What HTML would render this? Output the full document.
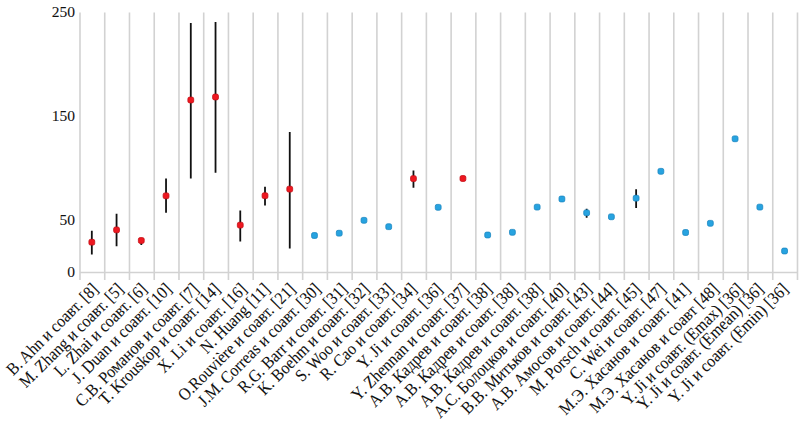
<!DOCTYPE html><html><head><meta charset="utf-8"><style>html,body{margin:0;padding:0;background:#fff;width:800px;height:433px;overflow:hidden}svg{display:block}text{font-family:"Liberation Serif",serif;fill:#111;stroke:#111;stroke-width:0.06px}</style></head><body>
<svg width="800" height="433" viewBox="0 0 800 433">
<path d="M80.00 12.5V280 M104.74 12.5V280 M129.48 12.5V280 M154.22 12.5V280 M178.97 12.5V280 M203.71 12.5V280 M228.45 12.5V280 M253.19 12.5V280 M277.93 12.5V280 M302.67 12.5V280 M327.41 12.5V280 M352.16 12.5V280 M376.90 12.5V280 M401.64 12.5V280 M426.38 12.5V280 M451.12 12.5V280 M475.86 12.5V280 M500.60 12.5V280 M525.34 12.5V280 M550.09 12.5V280 M574.83 12.5V280 M599.57 12.5V280 M624.31 12.5V280 M649.05 12.5V280 M673.79 12.5V280 M698.53 12.5V280 M723.28 12.5V280 M748.02 12.5V280 M772.76 12.5V280 M797.50 12.5V280" stroke="#d2d2d2" stroke-width="1.6" fill="none"/>
<path d="M80 272.5H797.5" stroke="#d2d2d2" stroke-width="1.6" fill="none"/>
<text x="75" y="17.0" font-size="15.5" text-anchor="end">250</text>
<text x="75" y="121.0" font-size="15.5" text-anchor="end">150</text>
<text x="75" y="225.0" font-size="15.5" text-anchor="end">50</text>
<text x="75" y="277.0" font-size="15.5" text-anchor="end">0</text>
<path d="M91.82 230.8V254.4 M116.56 213.8V246.2 M141.30 238.5V245 M166.04 178.5V212.8 M190.79 23V178.5 M215.53 22V172.7 M240.27 210.4V241.4 M265.01 186.8V205.4 M289.75 132V248.6 M413.46 170.6V187.7 M586.65 208.8V217.8 M636.13 189.3V208" stroke="#111" stroke-width="1.8" fill="none"/>
<rect x="88.92" y="239.30" width="5.8" height="5.8" rx="1.7" fill="#ee1820" stroke="#c40f16" stroke-width="0.8"/>
<rect x="113.66" y="227.00" width="5.8" height="5.8" rx="1.7" fill="#ee1820" stroke="#c40f16" stroke-width="0.8"/>
<rect x="138.40" y="237.60" width="5.8" height="5.8" rx="1.7" fill="#ee1820" stroke="#c40f16" stroke-width="0.8"/>
<rect x="163.14" y="192.90" width="5.8" height="5.8" rx="1.7" fill="#ee1820" stroke="#c40f16" stroke-width="0.8"/>
<rect x="187.89" y="97.10" width="5.8" height="5.8" rx="1.7" fill="#ee1820" stroke="#c40f16" stroke-width="0.8"/>
<rect x="212.63" y="94.10" width="5.8" height="5.8" rx="1.7" fill="#ee1820" stroke="#c40f16" stroke-width="0.8"/>
<rect x="237.37" y="222.20" width="5.8" height="5.8" rx="1.7" fill="#ee1820" stroke="#c40f16" stroke-width="0.8"/>
<rect x="262.11" y="192.80" width="5.8" height="5.8" rx="1.7" fill="#ee1820" stroke="#c40f16" stroke-width="0.8"/>
<rect x="286.85" y="186.20" width="5.8" height="5.8" rx="1.7" fill="#ee1820" stroke="#c40f16" stroke-width="0.8"/>
<rect x="311.59" y="232.60" width="5.8" height="5.8" rx="1.7" fill="#27a3e0" stroke="#1a86c2" stroke-width="0.8"/>
<rect x="336.33" y="230.30" width="5.8" height="5.8" rx="1.7" fill="#27a3e0" stroke="#1a86c2" stroke-width="0.8"/>
<rect x="361.08" y="217.40" width="5.8" height="5.8" rx="1.7" fill="#27a3e0" stroke="#1a86c2" stroke-width="0.8"/>
<rect x="385.82" y="223.80" width="5.8" height="5.8" rx="1.7" fill="#27a3e0" stroke="#1a86c2" stroke-width="0.8"/>
<rect x="410.56" y="175.70" width="5.8" height="5.8" rx="1.7" fill="#ee1820" stroke="#c40f16" stroke-width="0.8"/>
<rect x="435.30" y="204.40" width="5.8" height="5.8" rx="1.7" fill="#27a3e0" stroke="#1a86c2" stroke-width="0.8"/>
<rect x="460.04" y="175.60" width="5.8" height="5.8" rx="1.7" fill="#ee1820" stroke="#c40f16" stroke-width="0.8"/>
<rect x="484.78" y="232.10" width="5.8" height="5.8" rx="1.7" fill="#27a3e0" stroke="#1a86c2" stroke-width="0.8"/>
<rect x="509.52" y="229.40" width="5.8" height="5.8" rx="1.7" fill="#27a3e0" stroke="#1a86c2" stroke-width="0.8"/>
<rect x="534.27" y="204.20" width="5.8" height="5.8" rx="1.7" fill="#27a3e0" stroke="#1a86c2" stroke-width="0.8"/>
<rect x="559.01" y="196.10" width="5.8" height="5.8" rx="1.7" fill="#27a3e0" stroke="#1a86c2" stroke-width="0.8"/>
<rect x="583.75" y="209.90" width="5.8" height="5.8" rx="1.7" fill="#27a3e0" stroke="#1a86c2" stroke-width="0.8"/>
<rect x="608.49" y="213.90" width="5.8" height="5.8" rx="1.7" fill="#27a3e0" stroke="#1a86c2" stroke-width="0.8"/>
<rect x="633.23" y="195.30" width="5.8" height="5.8" rx="1.7" fill="#27a3e0" stroke="#1a86c2" stroke-width="0.8"/>
<rect x="657.97" y="168.40" width="5.8" height="5.8" rx="1.7" fill="#27a3e0" stroke="#1a86c2" stroke-width="0.8"/>
<rect x="682.71" y="229.60" width="5.8" height="5.8" rx="1.7" fill="#27a3e0" stroke="#1a86c2" stroke-width="0.8"/>
<rect x="707.46" y="220.40" width="5.8" height="5.8" rx="1.7" fill="#27a3e0" stroke="#1a86c2" stroke-width="0.8"/>
<rect x="732.20" y="135.90" width="5.8" height="5.8" rx="1.7" fill="#27a3e0" stroke="#1a86c2" stroke-width="0.8"/>
<rect x="756.94" y="204.20" width="5.8" height="5.8" rx="1.7" fill="#27a3e0" stroke="#1a86c2" stroke-width="0.8"/>
<rect x="781.68" y="248.10" width="5.8" height="5.8" rx="1.7" fill="#27a3e0" stroke="#1a86c2" stroke-width="0.8"/>
<text transform="translate(99.30 290.2) rotate(-45) scale(1 1.1)" font-size="15.75" text-anchor="end">B. Ahn и соавт. [8]</text>
<text transform="translate(124.54 290.2) rotate(-45) scale(1 1.1)" font-size="15.75" text-anchor="end">M. Zhang и соавт. [5]</text>
<text transform="translate(147.93 290.2) rotate(-45) scale(1 1.1)" font-size="15.75" text-anchor="end">L. Zhai и соавт. [6]</text>
<text transform="translate(172.62 290.2) rotate(-45) scale(1 1.1)" font-size="15.75" text-anchor="end">J. Duan и соавт. [10]</text>
<text transform="translate(199.76 290.2) rotate(-45) scale(1 1.1)" font-size="15.75" text-anchor="end">C.B. Романов и соавт. [7]</text>
<text transform="translate(221.20 290.2) rotate(-45) scale(1 1.1)" font-size="15.75" text-anchor="end">T. Krouskop и соавт. [14]</text>
<text transform="translate(247.74 290.2) rotate(-45) scale(1 1.1)" font-size="15.75" text-anchor="end">X. Li и соавт. [16]</text>
<text transform="translate(271.08 290.2) rotate(-45) scale(1 1.1)" font-size="15.75" text-anchor="end">N. Huang [11]</text>
<text transform="translate(296.42 290.2) rotate(-45) scale(1 1.1)" font-size="15.75" text-anchor="end">O.Rouvière и соавт. [21]</text>
<text transform="translate(321.66 290.2) rotate(-45) scale(1 1.1)" font-size="15.75" text-anchor="end">J.M. Correas и соавт. [30]</text>
<text transform="translate(348.20 290.2) rotate(-45) scale(1 1.1)" font-size="15.75" text-anchor="end">R.G. Barr и соавт. [31]</text>
<text transform="translate(370.34 290.2) rotate(-45) scale(1 1.1)" font-size="15.75" text-anchor="end">K. Boehm и соавт. [32]</text>
<text transform="translate(394.38 290.2) rotate(-45) scale(1 1.1)" font-size="15.75" text-anchor="end">S. Woo и соавт. [33]</text>
<text transform="translate(417.72 290.2) rotate(-45) scale(1 1.1)" font-size="15.75" text-anchor="end">R. Cao и соавт. [34]</text>
<text transform="translate(443.56 290.2) rotate(-45) scale(1 1.1)" font-size="15.75" text-anchor="end">Y. Ji и соавт. [36]</text>
<text transform="translate(469.50 290.2) rotate(-45) scale(1 1.1)" font-size="15.75" text-anchor="end">Y. Zhennan и соавт. [37]</text>
<text transform="translate(492.89 290.2) rotate(-45) scale(1 1.1)" font-size="15.75" text-anchor="end">А.В. Кадрев и соавт. [38]</text>
<text transform="translate(518.18 290.2) rotate(-45) scale(1 1.1)" font-size="15.75" text-anchor="end">А.В. Кадрев и соавт. [38]</text>
<text transform="translate(543.42 290.2) rotate(-45) scale(1 1.1)" font-size="15.75" text-anchor="end">А.В. Кадрев и соавт. [38]</text>
<text transform="translate(568.66 290.2) rotate(-45) scale(1 1.1)" font-size="15.75" text-anchor="end">А.С. Болоцков и соавт. [40]</text>
<text transform="translate(592.70 290.2) rotate(-45) scale(1 1.1)" font-size="15.75" text-anchor="end">В.В. Митьков и соавт. [43]</text>
<text transform="translate(617.34 290.2) rotate(-45) scale(1 1.1)" font-size="15.75" text-anchor="end">А.В. Амосов и соавт. [44]</text>
<text transform="translate(641.98 290.2) rotate(-45) scale(1 1.1)" font-size="15.75" text-anchor="end">M. Porsch и соавт. [45]</text>
<text transform="translate(666.62 290.2) rotate(-45) scale(1 1.1)" font-size="15.75" text-anchor="end">C. Wei и соавт. [47]</text>
<text transform="translate(691.26 290.2) rotate(-45) scale(1 1.1)" font-size="15.75" text-anchor="end">М.Э. Хасанов и соавт. [41]</text>
<text transform="translate(719.65 290.2) rotate(-45) scale(1 1.1)" font-size="15.75" text-anchor="end">М.Э. Хасанов и соавт [48]</text>
<text transform="translate(744.29 290.2) rotate(-45) scale(1 1.1)" font-size="15.75" text-anchor="end">Y. Ji и соавт. (Emax) [36]</text>
<text transform="translate(764.58 290.2) rotate(-45) scale(1 1.1)" font-size="15.75" text-anchor="end">Y. Ji и соавт. (Emean) [36]</text>
<text transform="translate(789.22 290.2) rotate(-45) scale(1 1.1)" font-size="15.75" text-anchor="end">Y. Ji и соавт. (Emin) [36]</text>
</svg></body></html>
